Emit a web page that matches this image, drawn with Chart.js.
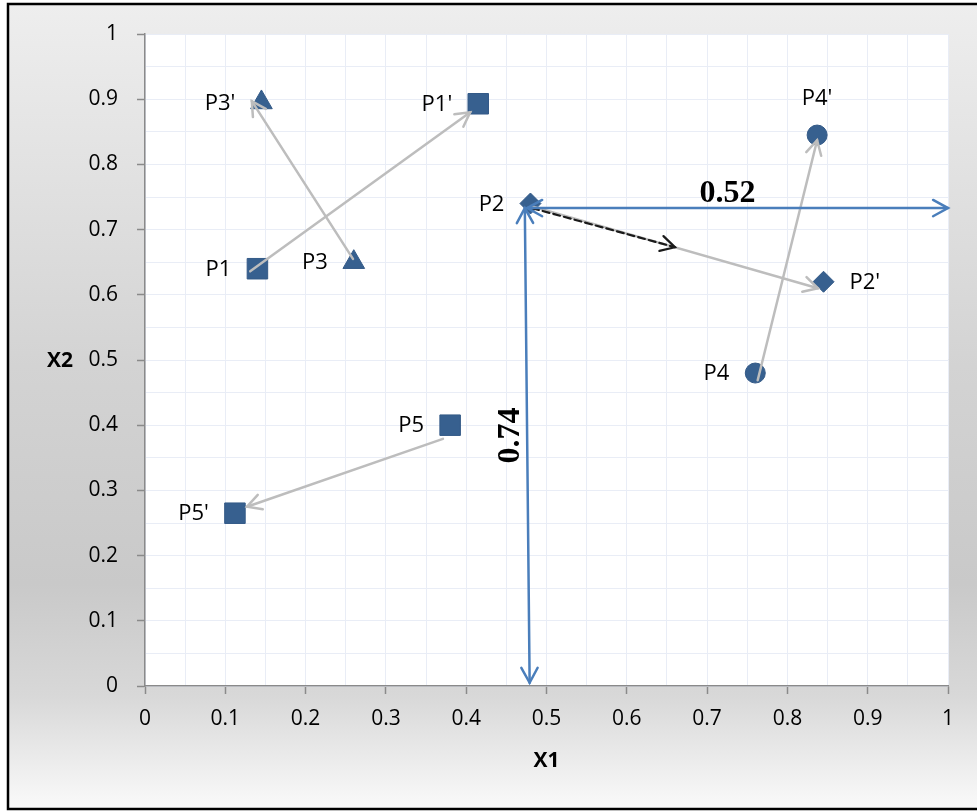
<!DOCTYPE html>
<html><head><meta charset="utf-8">
<script src="https://cdn.jsdelivr.net/npm/chart.js@4.4.0/dist/chart.umd.min.js"></script>
<style>html,body{margin:0;padding:0;background:#fff;}canvas{display:block;}</style>
</head><body>
<canvas id="c" width="977" height="812"></canvas>
<script>
// ---- data ----
const squareLabels = ['P1', "P1'", 'P5', "P5'"];
const squareX = [0.14, 0.415, 0.38, 0.112];
const squareY = [0.64, 0.893, 0.40, 0.265];

const triangleLabels = ['P3', "P3'"];
const triangleX = [0.26, 0.145];
const triangleY = [0.65, 0.895];

const diamondLabels = ['P2', "P2'"];
const diamondX = [0.48, 0.845];
const diamondY = [0.74, 0.62];

const circleLabels = ['P4', "P4'"];
const circleX = [0.76, 0.837];
const circleY = [0.48, 0.845];

// movement arrows (grey): start -> end
const moveStartX = [0.131, 0.259, 0.371, 0.763, 0.481];
const moveStartY = [0.636, 0.655, 0.379, 0.469, 0.736];
const moveEndX   = [0.405, 0.133, 0.127, 0.837, 0.838];
const moveEndY   = [0.880, 0.897, 0.275, 0.837, 0.610];

// dashed arrow
const dashStart = [0.482, 0.733];
const dashEnd   = [0.660, 0.673];

// distance arrows (double headed) and their labels
const distStartX = [0.476, 0.473];
const distStartY = [0.733, 0.733];
const distEndX   = [1.0, 0.479];
const distEndY   = [0.733, 0.005];
const distLabels = ['0.52', '0.74'];

const axisTicks = [0, 0.1, 0.2, 0.3, 0.4, 0.5, 0.6, 0.7, 0.8, 0.9, 1];

// ---- helpers ----
const toPts = (xs, ys) => xs.map((x, i) => ({x: x, y: ys[i]}));
const isMajor = v => axisTicks.some(t => Math.abs(t - v) < 1e-6);
const MARK = '#37608f';
const labelSide = {'P1':'left', "P1'":'left', 'P5':'left', "P5'":'left', 'P3':'left', "P3'":'left',
                   'P2':'left', "P2'":'right', 'P4':'left', "P4'":'above'};

function head(ctx, x0, y0, x1, y1, len, ang) {
  const t = Math.atan2(y1 - y0, x1 - x0);
  ctx.beginPath();
  ctx.moveTo(x1 - len * Math.cos(t - ang), y1 - len * Math.sin(t - ang));
  ctx.lineTo(x1, y1);
  ctx.lineTo(x1 - len * Math.cos(t + ang), y1 - len * Math.sin(t + ang));
  ctx.stroke();
}

const decor = {
  id: 'decor',
  beforeDraw(chart) {
    const ctx = chart.ctx, W = chart.width, H = chart.height, a = chart.chartArea;
    ctx.save();
    ctx.fillStyle = '#ffffff';
    ctx.fillRect(0, 0, W, H);
    const g = ctx.createLinearGradient(0, 4, 0, 809);
    g.addColorStop(0, '#eeeeee');
    g.addColorStop(0.45, '#d3d3d3');
    g.addColorStop(0.72, '#c9c9c9');
    g.addColorStop(0.86, '#d8d8d8');
    g.addColorStop(1, '#fafafa');
    ctx.fillStyle = g;
    ctx.fillRect(8, 4, W, 805);
    ctx.strokeStyle = '#000';
    ctx.lineWidth = 2.5;
    ctx.strokeRect(8, 4, W + 10, 805);
    ctx.fillStyle = '#ffffff';
    ctx.fillRect(a.left, a.top, a.right - a.left, a.bottom - a.top);
    ctx.restore();
  },
  afterDatasetsDraw(chart) {
    const ctx = chart.ctx, xs = chart.scales.x, ys = chart.scales.y;
    const px = v => xs.getPixelForValue(v), py = v => ys.getPixelForValue(v);
    ctx.save();
    ctx.lineCap = 'round';
    // grey movement arrows
    ctx.strokeStyle = '#bdbdbd';
    ctx.lineWidth = 2.5;
    for (let i = 0; i < moveStartX.length; i++) {
      const x0 = px(moveStartX[i]), y0 = py(moveStartY[i]), x1 = px(moveEndX[i]), y1 = py(moveEndY[i]);
      ctx.beginPath(); ctx.moveTo(x0, y0); ctx.lineTo(x1, y1); ctx.stroke();
      head(ctx, x0, y0, x1, y1, 16, 0.5);
    }
    // dashed arrow
    ctx.strokeStyle = '#1a1a1a';
    ctx.lineWidth = 2.2;
    {
      const x0 = px(dashStart[0]), y0 = py(dashStart[1]), x1 = px(dashEnd[0]), y1 = py(dashEnd[1]);
      ctx.setLineDash([7, 4]);
      ctx.beginPath(); ctx.moveTo(x0, y0); ctx.lineTo(x1, y1); ctx.stroke();
      ctx.setLineDash([]);
      head(ctx, x0, y0, x1, y1, 16, 0.5);
    }
    // blue distance arrows
    ctx.strokeStyle = '#4a7ebb';
    ctx.lineWidth = 2.5;
    for (let i = 0; i < distStartX.length; i++) {
      const x0 = px(distStartX[i]), y0 = py(distStartY[i]), x1 = px(distEndX[i]), y1 = py(distEndY[i]);
      ctx.beginPath(); ctx.moveTo(x0, y0); ctx.lineTo(x1, y1); ctx.stroke();
      head(ctx, x0, y0, x1, y1, 17, 0.5);
      head(ctx, x1, y1, x0, y0, 17, 0.5);
    }
    // distance labels
    ctx.fillStyle = '#000';
    ctx.font = 'bold 32px "Liberation Serif", "DejaVu Serif", serif';
    ctx.textAlign = 'center';
    ctx.textBaseline = 'middle';
    {
      const cx = (px(distStartX[0]) + px(distEndX[0])) / 2 - 10;
      ctx.fillText(distLabels[0], cx, py(distStartY[0]) - 14);
      const cy = (py(distStartY[1]) + py(distEndY[1])) / 2 - 10;
      ctx.save();
      ctx.translate(px(distStartX[1]) - 14, cy);
      ctx.rotate(-Math.PI / 2);
      ctx.fillText(distLabels[1], 0, 0);
      ctx.restore();
    }
    // point labels
    ctx.font = '22px "Open Sans", sans-serif';
    chart.data.datasets.forEach((ds, di) => {
      const meta = chart.getDatasetMeta(di);
      ds.labels.forEach((lab, j) => {
        const el = meta.data[j];
        const side = labelSide[lab];
        if (side === 'left') { ctx.textAlign = 'right'; ctx.fillText(lab, el.x - 26, el.y + 1); }
        else if (side === 'right') { ctx.textAlign = 'left'; ctx.fillText(lab, el.x + 26, el.y + 1); }
        else { ctx.textAlign = 'center'; ctx.fillText(lab, el.x, el.y - 36); }
      });
    });
    // axis titles
    ctx.font = 'bold 21px "Open Sans", sans-serif';
    ctx.textAlign = 'center';
    ctx.fillText('X1', (chart.chartArea.left + chart.chartArea.right) / 2, 761);
    ctx.fillText('X2', 60, 361);
    ctx.restore();
  }
};

const tickFont = {family: '"Open Sans", sans-serif', size: 21};
const gridCfg = {
  color: '#e9edf6',
  lineWidth: 1,
  drawTicks: true,
  tickLength: 8,
  tickColor: c => isMajor(c.tick ? c.tick.value : 0) ? '#8a8a8a' : 'rgba(0,0,0,0)',
  tickWidth: 1.5
};
const tickCb = v => isMajor(v) ? String(Math.round(v * 10) / 10) : '';

new Chart(document.getElementById('c'), {
  type: 'scatter',
  data: {
    datasets: [
      {labels: squareLabels, data: toPts(squareX, squareY), pointStyle: 'rect', pointRadius: 14.5,
       backgroundColor: MARK, borderColor: '#345a87', borderWidth: 1},
      {labels: triangleLabels, data: toPts(triangleX, triangleY), pointStyle: 'triangle', pointRadius: 12.5,
       backgroundColor: MARK, borderColor: '#345a87', borderWidth: 1},
      {labels: diamondLabels, data: toPts(diamondX, diamondY), pointStyle: 'rectRot', pointRadius: 10.5,
       backgroundColor: MARK, borderColor: '#345a87', borderWidth: 1},
      {labels: circleLabels, data: toPts(circleX, circleY), pointStyle: 'circle', pointRadius: 10,
       backgroundColor: MARK, borderColor: '#345a87', borderWidth: 1}
    ]
  },
  options: {
    responsive: false,
    animation: false,
    devicePixelRatio: 1,
    layout: {padding: {top: 34, right: 29, left: 0, bottom: 0}},
    plugins: {legend: {display: false}, tooltip: {enabled: false}},
    scales: {
      x: {
        type: 'linear', min: 0, max: 1, position: 'bottom',
        grid: gridCfg,
        border: {color: '#8a8a8a', width: 1.5},
        ticks: {stepSize: 0.05, autoSkip: false, maxRotation: 0, color: '#000', font: tickFont, padding: 12, callback: tickCb},
        afterFit: s => { s.height = 126; }
      },
      y: {
        type: 'linear', min: 0, max: 1,
        grid: gridCfg,
        border: {color: '#8a8a8a', width: 1.5},
        ticks: {stepSize: 0.05, autoSkip: false, color: '#000', font: tickFont, padding: 19, callback: tickCb},
        afterFit: s => { s.width = 145; }
      }
    }
  },
  plugins: [decor]
});
</script>
</body></html>
